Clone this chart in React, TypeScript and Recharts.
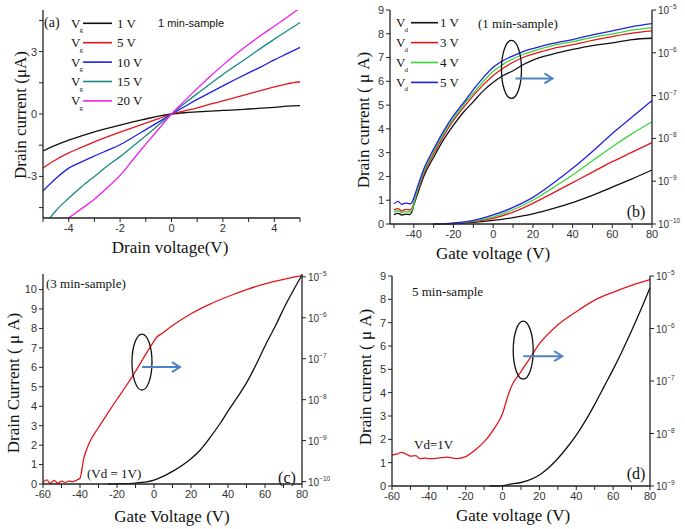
import React from "react";
import { LineChart, Line, XAxis, YAxis, ReferenceDot } from "recharts";

const SANS = '"Liberation Sans", Arial, sans-serif';
const SERIF = '"Liberation Serif", "Times New Roman", serif';
const AXIS = "#222";

const BLACK = "#111111";
const RED = "#e3161c";
const BLUE = "#1f1fe6";
const TEAL = "#168a80";
const MAGENTA = "#f01ef0";
const GREEN = "#3ad43a";
const ARROW = "#4f83c2";

// ---- (a) output curves, Id (uA) vs Vd (V)
const aVd = [-5, -4.5, -4, -3.5, -3, -2.5, -2, -1.5, -1, -0.5, 0, 0.5, 1, 1.5, 2, 2.5, 3, 3.5, 4, 4.5, 5];
const aVg1 = [-1.78, -1.5, -1.26, -1.05, -0.86, -0.69, -0.53, -0.38, -0.24, -0.1, 0, 0.06, 0.1, 0.14, 0.17, 0.2, 0.24, 0.28, 0.32, 0.38, 0.4];
const aVg5 = [-2.6, -2.2, -1.87, -1.6, -1.34, -1.1, -0.87, -0.65, -0.44, -0.22, 0, 0.15, 0.3, 0.47, 0.63, 0.8, 0.97, 1.14, 1.3, 1.45, 1.55];
const aVg10 = [-3.7, -3.1, -2.6, -2.3, -2.02, -1.75, -1.48, -1.12, -0.75, -0.38, 0, 0.35, 0.7, 1.03, 1.35, 1.67, 1.98, 2.28, 2.6, 2.9, 3.2];
const aVg15 = [-5.45, -4.65, -4.05, -3.5, -3.0, -2.5, -2.05, -1.55, -1.05, -0.52, 0, 0.5, 0.98, 1.44, 1.9, 2.33, 2.75, 3.18, 3.6, 4.0, 4.4];
const aVg20 = [-6.0, -5.5, -5.0, -4.55, -4.1, -3.55, -2.95, -2.2, -1.45, -0.72, 0, 0.62, 1.22, 1.8, 2.35, 2.87, 3.35, 3.8, 4.22, 4.65, 5.1];

// ---- (b) transfer curves, 1 min sample
// log branch: log10(Id / A) on right axis
const bLogVg = [-50, -48, -46, -44, -42, -41, -40, -38, -35, -30, -25, -20, -15, -10, -5, 0, 5, 10, 15, 20, 30, 40, 50, 60, 70, 80];
const bLogVd1 = [-9.78, -9.75, -9.79, -9.77, -9.78, -9.72, -9.56, -9.28, -8.89, -8.44, -8.03, -7.69, -7.39, -7.14, -6.89, -6.69, -6.53, -6.42, -6.28, -6.17, -6.03, -5.92, -5.83, -5.77, -5.69, -5.66];
const bLogVd3 = [-9.67, -9.64, -9.69, -9.66, -9.67, -9.64, -9.5, -9.22, -8.83, -8.36, -7.94, -7.58, -7.28, -7.0, -6.75, -6.53, -6.36, -6.22, -6.11, -6.03, -5.9, -5.81, -5.71, -5.62, -5.54, -5.49];
const bLogVd4 = [-9.72, -9.69, -9.73, -9.71, -9.72, -9.68, -9.53, -9.19, -8.78, -8.31, -7.89, -7.53, -7.22, -6.94, -6.67, -6.43, -6.27, -6.14, -6.04, -5.96, -5.83, -5.74, -5.64, -5.56, -5.47, -5.41];
const bLogVd5 = [-9.53, -9.47, -9.54, -9.51, -9.53, -9.5, -9.39, -9.11, -8.72, -8.25, -7.83, -7.47, -7.17, -6.86, -6.58, -6.34, -6.18, -6.07, -5.97, -5.9, -5.78, -5.69, -5.58, -5.49, -5.39, -5.32];
// linear branch: Id (uA) on left axis
const bLinVg = [-30, -20, -10, 0, 10, 20, 30, 40, 50, 60, 70, 80];
const bLinVd1 = [0, 0.02, 0.07, 0.15, 0.27, 0.43, 0.65, 0.9, 1.2, 1.55, 1.9, 2.27];
const bLinVd3 = [0, 0.03, 0.1, 0.24, 0.5, 0.87, 1.3, 1.74, 2.18, 2.62, 3.02, 3.42];
const bLinVd4 = [0, 0.03, 0.12, 0.3, 0.6, 1.0, 1.52, 2.06, 2.66, 3.25, 3.8, 4.3];
const bLinVd5 = [0, 0.04, 0.15, 0.38, 0.7, 1.12, 1.7, 2.34, 3.05, 3.81, 4.5, 5.19];

// ---- (c) 3 min sample, Vd = 1 V
const cLogVg = [-60, -58, -56, -54, -52, -50, -48, -46, -44, -42, -40, -38, -35, -30, -25, -20, -15, -10, -5, 0, 1, 5, 10, 20, 30, 40, 50, 60, 70, 80];
const cLogId = [-10.02, -9.96, -10.04, -9.97, -10.04, -9.99, -10.02, -9.99, -10.0, -9.97, -9.92, -9.44, -9.06, -8.68, -8.33, -7.99, -7.66, -7.31, -6.93, -6.57, -6.5, -6.36, -6.19, -5.9, -5.67, -5.48, -5.31, -5.17, -5.06, -4.97];
const cLinVg = [-25, -20, -10, 0, 10, 20, 25, 30, 36, 40, 46, 50, 56, 60, 66, 70, 75, 80];
const cLinId = [0, 0.01, 0.05, 0.2, 0.65, 1.3, 1.75, 2.35, 3.15, 3.75, 4.6, 5.2, 6.3, 7.1, 8.2, 9.0, 9.9, 10.75];

// ---- (d) 5 min sample, Vd = 1 V
const dLogVg = [-60, -57, -55, -52, -50, -47, -45, -42, -40, -35, -30, -25, -20, -15, -10, -5, 0, 3, 5, 10, 15, 20, 30, 40, 50, 60, 70, 80];
const dLogId = [-8.41, -8.39, -8.36, -8.4, -8.43, -8.42, -8.48, -8.47, -8.48, -8.47, -8.45, -8.48, -8.44, -8.32, -8.16, -7.93, -7.62, -7.27, -7.09, -6.82, -6.56, -6.29, -5.93, -5.68, -5.46, -5.31, -5.18, -5.07];
const dLinVg = [-7, 0, 5, 10, 15, 20, 25, 30, 35, 40, 45, 50, 55, 60, 65, 70, 75, 80];
const dLinId = [0, 0.02, 0.09, 0.15, 0.27, 0.47, 0.78, 1.18, 1.65, 2.18, 2.8, 3.5, 4.25, 5.0, 5.8, 6.65, 7.55, 8.5];

const pts = (xs: number[], ys: number[]) => xs.map((x, i) => ({ x, y: ys[i] }));

const aData = aVd.map((x, i) => ({
  x,
  g1: aVg1[i],
  g5: aVg5[i],
  g10: aVg10[i],
  g15: aVg15[i],
  g20: aVg20[i],
}));

const tickStyle = { fontSize: 11, fill: "#333", fontFamily: SANS };
const axisLine = { stroke: AXIS, strokeWidth: 1.3 };
const tickLine = { stroke: AXIS, strokeWidth: 1 };

function LogTick(props: any) {
  const { x, y, payload } = props;
  const v = Number(payload.value);
  return (
    <text x={x} y={y} dy={4} fill="#333" fontSize={10} fontFamily={SANS} textAnchor="start">
      10
      <tspan dy={-5} fontSize={6.5}>
        {(v < 0 ? "\u2212" : "") + Math.abs(v)}
      </tspan>
    </text>
  );
}

const ellipseArrow = (ry: number, arrowDy: number, arrowX0: number, arrowLen: number) =>
  (p: any) => {
    const { cx, cy } = p;
    const ay = cy + arrowDy;
    const x0 = cx + arrowX0;
    const x1 = x0 + arrowLen;
    return (
      <g>
        <ellipse cx={cx} cy={cy} rx={10} ry={ry} fill="none" stroke="#111" strokeWidth={1.3} />
        <line x1={x0} y1={ay} x2={x1} y2={ay} stroke={ARROW} strokeWidth={2} />
        <polyline
          points={`${x1 - 8},${ay - 5} ${x1},${ay} ${x1 - 8},${ay + 5}`}
          fill="none"
          stroke={ARROW}
          strokeWidth={2}
        />
      </g>
    );
  };

const line = (dataKey: string, color: string, extra: any = {}) => (
  <Line
    key={dataKey + color + (extra.yAxisId || "")}
    type="monotone"
    dataKey={dataKey}
    stroke={color}
    strokeWidth={1.3}
    dot={false}
    isAnimationActive={false}
    {...extra}
  />
);

const even20 = (v: number) => (v % 20 === 0 ? String(v) : "");

function PanelA() {
  return (
    <div style={{ position: "absolute", left: 0, top: 0 }}>
      <LineChart width={340} height={260} data={aData} margin={{ top: 10, right: 40, bottom: 17, left: 8 }}>
        <XAxis
          dataKey="x"
          type="number"
          domain={[-5, 5]}
          ticks={[-5, -4, -3, -2, -1, 0, 1, 2, 3, 4, 5]}
          tickFormatter={(v) => (v % 2 === 0 ? String(v) : "")}
          interval={0}
          height={25}
          tickSize={4}
          axisLine={axisLine}
          tickLine={tickLine}
          tick={tickStyle}
        />
        <XAxis xAxisId="top" orientation="top" type="number" domain={[-5, 5]} height={0} tick={false} tickLine={false} axisLine={axisLine} />
        <YAxis
          type="number"
          domain={[-5, 5]}
          allowDataOverflow
          ticks={[-4.5, -3, -1.5, 0, 1.5, 3, 4.5]}
          tickFormatter={(v) => (v % 3 === 0 ? String(v) : "")}
          interval={0}
          width={35}
          tickSize={4}
          axisLine={axisLine}
          tickLine={tickLine}
          tick={tickStyle}
        />
        <YAxis yAxisId="r" orientation="right" type="number" domain={[-5, 5]} width={0} tick={false} tickLine={false} axisLine={axisLine} />
        {line("g1", BLACK)}
        {line("g5", RED)}
        {line("g10", BLUE)}
        {line("g15", TEAL)}
        {line("g20", MAGENTA)}
      </LineChart>
    </div>
  );
}

function TransferChart(props: {
  left: number;
  top: number;
  width: number;
  height: number;
  margin: any;
  leftW: number;
  rightW: number;
  xDomain: number[];
  xTicks: number[];
  lDomain: number[];
  lTicks: number[];
  rDomain: number[];
  rTicks: number[];
  logSeries: { xs: number[]; ys: number[]; color: string }[];
  linSeries: { xs: number[]; ys: number[]; color: string }[];
  marker: { x: number; y: number; shape: any };
}) {
  const p = props;
  return (
    <div style={{ position: "absolute", left: p.left, top: p.top }}>
      <LineChart width={p.width} height={p.height} margin={p.margin}>
        <XAxis
          dataKey="x"
          type="number"
          domain={p.xDomain}
          ticks={p.xTicks}
          tickFormatter={even20}
          interval={0}
          height={25}
          tickSize={4}
          axisLine={axisLine}
          tickLine={tickLine}
          tick={tickStyle}
          allowDuplicatedCategory={false}
        />
        <XAxis xAxisId="top" orientation="top" type="number" domain={p.xDomain} height={0} tick={false} tickLine={false} axisLine={axisLine} />
        <YAxis
          yAxisId="l"
          type="number"
          domain={p.lDomain}
          ticks={p.lTicks}
          interval={0}
          width={p.leftW}
          tickSize={4}
          axisLine={axisLine}
          tickLine={tickLine}
          tick={tickStyle}
        />
        <YAxis
          yAxisId="r"
          orientation="right"
          type="number"
          domain={p.rDomain}
          ticks={p.rTicks}
          interval={0}
          width={p.rightW}
          tickSize={4}
          axisLine={axisLine}
          tickLine={tickLine}
          tick={<LogTick />}
        />
        {p.logSeries.map((s, i) =>
          line("y", s.color, { key: "log" + i, yAxisId: "r", data: pts(s.xs, s.ys) })
        )}
        {p.linSeries.map((s, i) =>
          line("y", s.color, { key: "lin" + i, yAxisId: "l", data: pts(s.xs, s.ys) })
        )}
        <ReferenceDot yAxisId="l" x={p.marker.x} y={p.marker.y} r={0} ifOverflow="visible" shape={p.marker.shape} />
      </LineChart>
    </div>
  );
}

const xTicksB = [-50, -40, -30, -20, -10, 0, 10, 20, 30, 40, 50, 60, 70, 80];
const xTicksCD = [-60, -50, -40, -30, -20, -10, 0, 10, 20, 30, 40, 50, 60, 70, 80];

function Legend(props: { x: number; y: number; gap: number; sub: string; rows: { label: string; color: string }[]; lineX: number[]; labelX: number }) {
  const p = props;
  return (
    <g fontFamily={SERIF} fill="#111">
      {p.rows.map((r, i) => {
        const cy = p.y + i * p.gap;
        return (
          <g key={i}>
            <text x={p.x} y={cy} fontSize={13} dominantBaseline="central">V</text>
            <text x={p.x + 8.5} y={cy + 7} fontSize={7} dominantBaseline="central">{p.sub}</text>
            <line x1={p.lineX[0]} x2={p.lineX[1]} y1={cy} y2={cy} stroke={r.color} strokeWidth={1.6} />
            <text x={p.labelX} y={cy} fontSize={13} dominantBaseline="central">{r.label}</text>
          </g>
        );
      })}
    </g>
  );
}

function YTitle(props: { x: number; y: number; text: string }) {
  return (
    <text
      x={props.x}
      y={props.y}
      transform={`rotate(-90 ${props.x} ${props.y})`}
      textAnchor="middle"
      dominantBaseline="central"
      fontFamily={SERIF}
      fontSize={17}
      fill="#111"
    >
      {props.text}
    </text>
  );
}

function XTitle(props: { x: number; y: number; text: string }) {
  return (
    <text x={props.x} y={props.y} textAnchor="middle" dominantBaseline="central" fontFamily={SERIF} fontSize={17} fill="#111">
      {props.text}
    </text>
  );
}

function Note(props: { x: number; y: number; text: string; size?: number; anchor?: string; font?: string }) {
  return (
    <text
      x={props.x}
      y={props.y}
      textAnchor={(props.anchor as any) || "start"}
      dominantBaseline="central"
      fontFamily={props.font || SERIF}
      fontSize={props.size || 13}
      fill="#111"
    >
      {props.text}
    </text>
  );
}

export default function App() {
  return (
    <div style={{ position: "absolute", left: 0, top: 0, width: 685, height: 529, background: "#fff", overflow: "hidden" }}>
      <PanelA />
      <TransferChart
        left={340}
        top={0}
        width={345}
        height={260}
        margin={{ top: 10, right: 3, bottom: 11, left: 20 }}
        leftW={30}
        rightW={30}
        xDomain={[-52, 80]}
        xTicks={xTicksB}
        lDomain={[0, 9]}
        lTicks={[0, 1, 2, 3, 4, 5, 6, 7, 8, 9]}
        rDomain={[-10, -5]}
        rTicks={[-10, -9, -8, -7, -6, -5]}
        logSeries={[
          { xs: bLogVg, ys: bLogVd1, color: BLACK },
          { xs: bLogVg, ys: bLogVd3, color: RED },
          { xs: bLogVg, ys: bLogVd4, color: GREEN },
          { xs: bLogVg, ys: bLogVd5, color: BLUE },
        ]}
        linSeries={[
          { xs: bLinVg, ys: bLinVd1, color: BLACK },
          { xs: bLinVg, ys: bLinVd3, color: RED },
          { xs: bLinVg, ys: bLinVd4, color: GREEN },
          { xs: bLinVg, ys: bLinVd5, color: BLUE },
        ]}
        marker={{ x: 9.2, y: 6.5, shape: ellipseArrow(29, 9, 4, 37) }}
      />
      <TransferChart
        left={0}
        top={260}
        width={340}
        height={269}
        margin={{ top: 14, right: 3, bottom: 20, left: 13 }}
        leftW={30}
        rightW={35}
        xDomain={[-60, 80]}
        xTicks={xTicksCD}
        lDomain={[0, 10.8]}
        lTicks={[0, 1, 2, 3, 4, 5, 6, 7, 8, 9, 10]}
        rDomain={[-10.06, -4.93]}
        rTicks={[-10, -9, -8, -7, -6, -5]}
        logSeries={[{ xs: cLogVg, ys: cLogId, color: RED }]}
        linSeries={[{ xs: cLinVg, ys: cLinId, color: BLACK }]}
        marker={{ x: -6.5, y: 6.27, shape: ellipseArrow(28, 5, 0, 38) }}
      />
      <TransferChart
        left={340}
        top={260}
        width={345}
        height={269}
        margin={{ top: 16, right: 3, bottom: 18, left: 22 }}
        leftW={30}
        rightW={32}
        xDomain={[-60, 80]}
        xTicks={xTicksCD}
        lDomain={[0, 9]}
        lTicks={[0, 1, 2, 3, 4, 5, 6, 7, 8, 9]}
        rDomain={[-9, -5]}
        rTicks={[-9, -8, -7, -6, -5]}
        logSeries={[{ xs: dLogVg, ys: dLogId, color: RED }]}
        linSeries={[{ xs: dLinVg, ys: dLinId, color: BLACK }]}
        marker={{ x: 11.2, y: 5.82, shape: ellipseArrow(29, 6, 0, 39) }}
      />
      <svg width={685} height={529} style={{ position: "absolute", left: 0, top: 0, pointerEvents: "none" }}>
        {/* (a) */}
        <Note x={44} y={22} text="(a)" size={14} />
        <Legend
          x={71}
          y={23.3}
          gap={19.4}
          sub="g"
          lineX={[83, 112]}
          labelX={117}
          rows={[
            { label: "1 V", color: BLACK },
            { label: "5 V", color: RED },
            { label: "10 V", color: BLUE },
            { label: "15 V", color: TEAL },
            { label: "20 V", color: MAGENTA },
          ]}
        />
        <Note x={158} y={23} text="1 min-sample" size={11} font={SANS} />
        <XTitle x={170} y={247} text="Drain voltage(V)" />
        <YTitle x={20} y={115} text="Drain current (μA)" />

        {/* (b) */}
        <Legend
          x={396}
          y={22.7}
          gap={19.9}
          sub="d"
          lineX={[411, 438]}
          labelX={440}
          rows={[
            { label: "1 V", color: BLACK },
            { label: "3 V", color: RED },
            { label: "4 V", color: GREEN },
            { label: "5 V", color: BLUE },
          ]}
        />
        <Note x={478} y={23} text="(1 min-sample)" />
        <Note x={636} y={211} text="(b)" size={16} anchor="middle" />
        <XTitle x={493} y={253} text="Gate voltage (V)" />
        <YTitle x={363} y={120} text="Drain current ( μ A)" />

        {/* (c) */}
        <Note x={46} y={283} text="(3 min-sample)" />
        <Note x={87} y={473} text="(Vd = 1V)" />
        <Note x={287} y={477} text="(c)" size={16} anchor="middle" />
        <XTitle x={172} y={516} text="Gate Voltage (V)" />
        <YTitle x={13} y={383} text="Drain Current ( μ A)" />

        {/* (d) */}
        <Note x={412} y={291} text="5 min-sample" />
        <Note x={414} y={444} text="Vd=1V" />
        <Note x={636} y={473} text="(d)" size={16} anchor="middle" />
        <XTitle x={513} y={515} text="Gate voltage (V)" />
        <YTitle x={365} y={377} text="Drain current ( μ A)" />
      </svg>
    </div>
  );
}
